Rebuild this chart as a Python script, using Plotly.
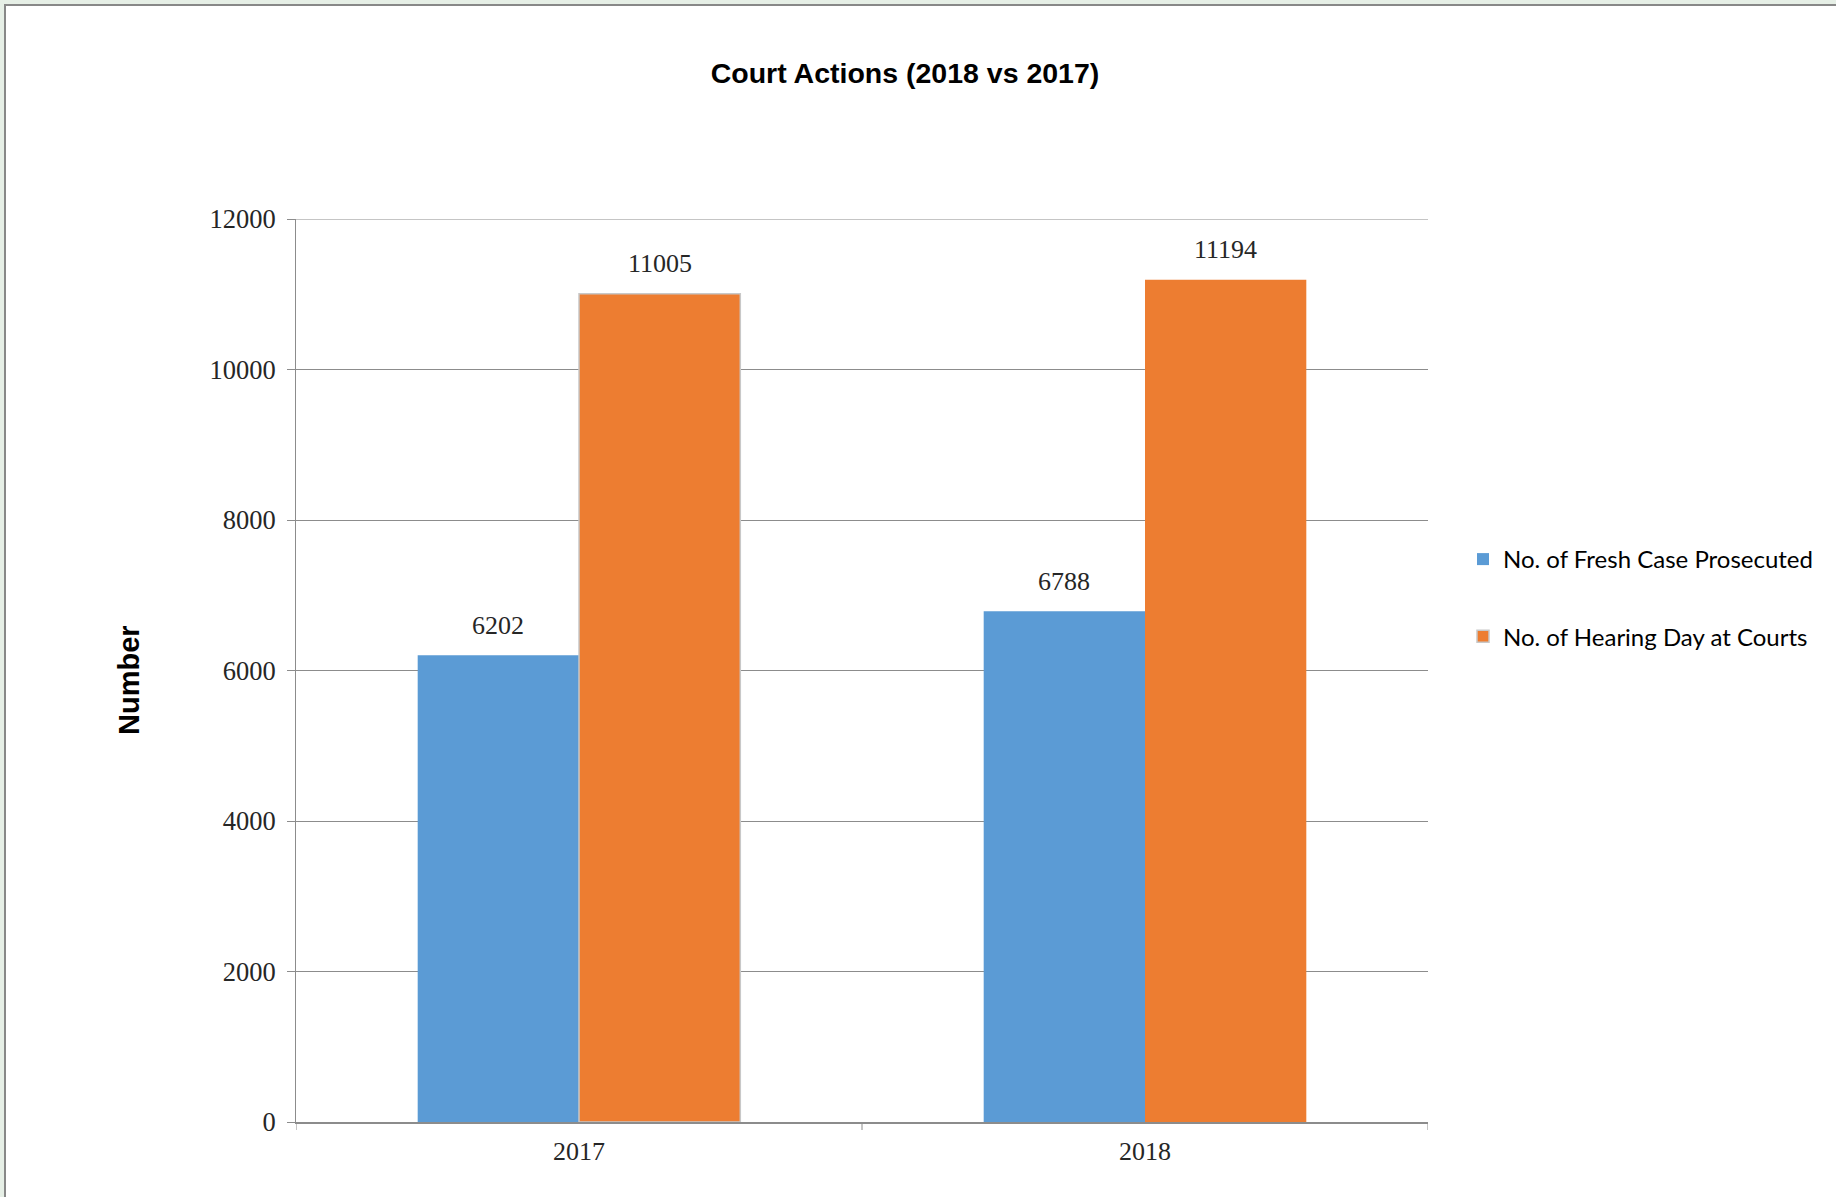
import plotly.graph_objects as go

categories = ["2017", "2018"]
fresh_cases = [6202, 6788]
hearing_days = [11005, 11194]
series_names = ["No. of Fresh Case Prosecuted", "No. of Hearing Day at Courts"]
y_ticks = [0, 2000, 4000, 6000, 8000, 10000, 12000]
y_tick_labels = [str(v) for v in y_ticks]

W, H = 1836, 1197
ML, MR, MT, MB = 296, 408, 219, 75
PW = W - ML - MR
PH = H - MT - MB

BLUE = "#5B9BD5"
ORANGE = "#ED7D31"
GRID = "#8c8c8c"
SERIF = "Liberation Serif, Times New Roman, serif"
SANS = "Lato, Open Sans, sans-serif"
BOLD = "Liberation Sans, Arial, sans-serif"

bw = 0.285
idx = list(range(len(categories)))

fig = go.Figure()
fig.add_trace(go.Bar(
    x=idx, y=fresh_cases, name=series_names[0], width=bw, offset=-bw,
    marker=dict(color=BLUE, line=dict(width=0)), legendgroup="a",
))
fig.add_trace(go.Bar(
    x=idx, y=hearing_days, name=series_names[1], width=bw, offset=0,
    marker=dict(color=ORANGE, line=dict(width=[1.5, 0], color=["#c8c8c8", ORANGE])),
    legendgroup="b",
))

annotations = []
for i, (a, b) in enumerate(zip(fresh_cases, hearing_days)):
    for xv, v in ((i - bw / 2, a), (i + bw / 2, b)):
        annotations.append(dict(
            x=xv, y=v, xref="x", yref="y", text=str(v), showarrow=False,
            yanchor="middle", yshift=30,
            font=dict(family=SERIF, size=26, color="#262626"),
        ))
annotations.append(dict(
    x=(111 - ML) / PW, y=(H - MB - 680) / PH, xref="paper", yref="paper",
    text="<b>Number</b>", textangle=-90, showarrow=False,
    font=dict(family=BOLD, size=29, color="#000000"),
))

shapes = [dict(
    type="rect", xref="paper", yref="paper", layer="below",
    x0=(5 - ML) / PW, x1=(W + 20 - ML) / PW,
    y0=(H - MB - (H + 20)) / PH, y1=(H - MB - 5) / PH,
    fillcolor="white", line=dict(color="#888888", width=2),
)]
# top gridline (at the axis maximum)
shapes.append(dict(type="line", xref="paper", yref="y", x0=0, x1=1,
                   y0=max(y_ticks), y1=max(y_ticks),
                   line=dict(color=GRID, width=1), layer="below"))
# x-axis boundary ticks at category edges
for b in [-0.5 + k for k in range(len(categories) + 1)]:
    shapes.append(dict(type="line", xref="x", yref="paper", x0=b, x1=b,
                       y0=0, y1=-8 / PH, line=dict(color=GRID, width=1)))

fig.update_layout(
    width=W, height=H,
    margin=dict(l=ML, r=MR, t=MT, b=MB, autoexpand=False),
    paper_bgcolor="#E6EFE6",
    plot_bgcolor="rgba(0,0,0,0)",
    title=dict(
        text="<b>Court Actions (2018 vs 2017)</b>",
        x=905 / W, xanchor="center", xref="container",
        y=1 - 73 / H, yanchor="middle", yref="container",
        font=dict(family=BOLD, size=28.5, color="#000000"),
    ),
    barmode="overlay",
    showlegend=True,
    legend=dict(
        x=(1463 - ML) / PW, xanchor="left",
        y=(H - MB - 537) / PH, yanchor="top",
        font=dict(family=SANS, size=24, color="#000000"),
        tracegroupgap=43, traceorder="grouped",
        bgcolor="rgba(0,0,0,0)", itemwidth=30,
    ),
    annotations=annotations,
    shapes=shapes,
    xaxis=dict(
        tickmode="array", tickvals=idx, ticktext=categories,
        range=[-0.5, len(categories) - 0.5],
        showgrid=False, zeroline=False,
        showline=True, linecolor=GRID, linewidth=2,
        tickfont=dict(family=SERIF, size=26, color="#262626"),
        ticks="", ticklabelstandoff=5,
    ),
    yaxis=dict(
        range=[0, 12000], tickmode="array", tickvals=y_ticks, ticktext=y_tick_labels,
        showgrid=True, gridcolor=GRID, gridwidth=1,
        zeroline=False, showline=True, linecolor=GRID, linewidth=1,
        ticks="outside", ticklen=8, tickcolor=GRID,
        tickfont=dict(family=SERIF, size=26.5, color="#262626"),
        ticklabelstandoff=6,
    ),
)

fig.write_html("out.html")
